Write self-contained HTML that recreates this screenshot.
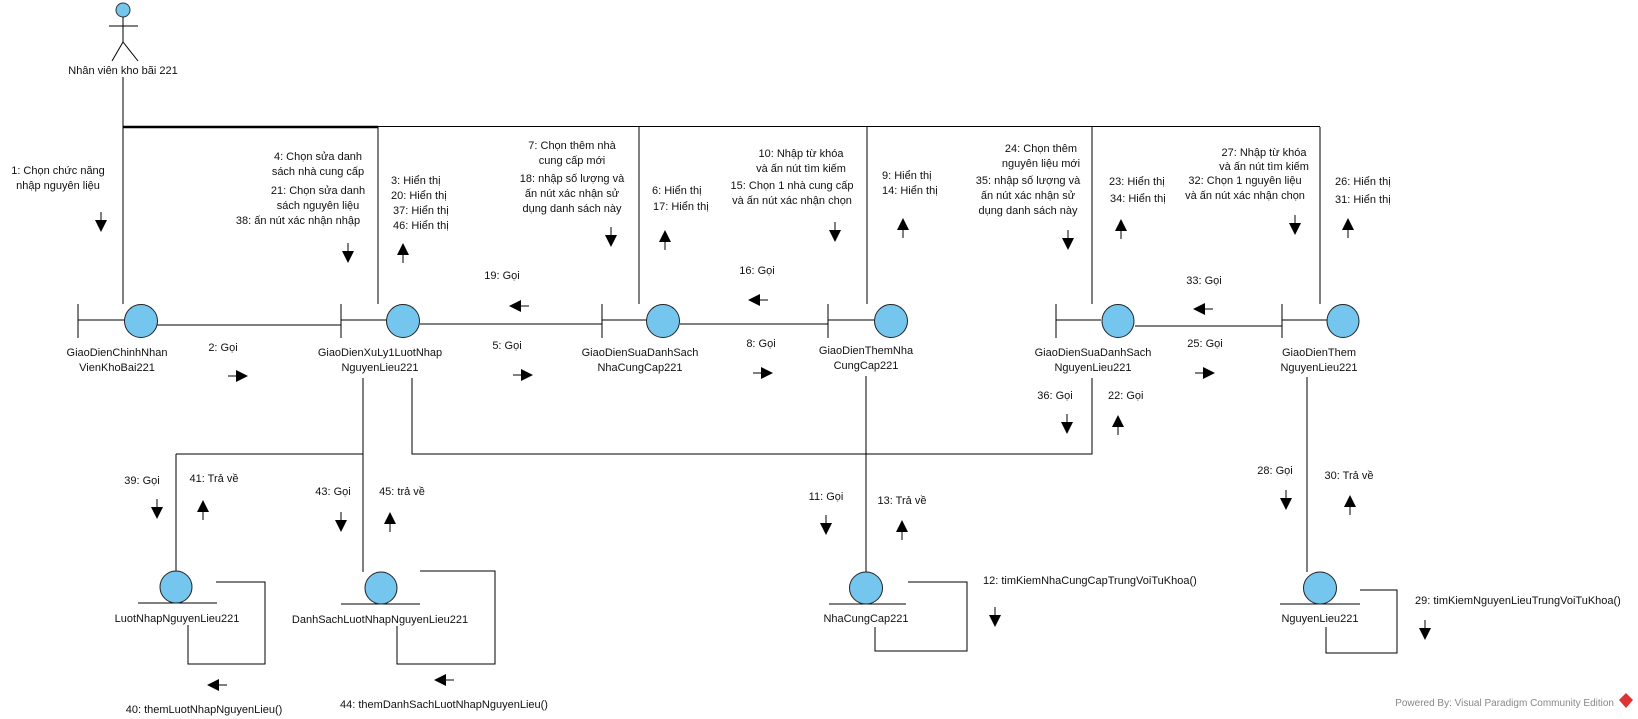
<!DOCTYPE html>
<html><head><meta charset="utf-8"><style>
html,body{margin:0;padding:0;background:#fff;}
svg{display:block;}
text{font-family:"Liberation Sans",Arial,sans-serif;font-size:11px;fill:#111;}
.m{text-anchor:middle;}
</style></head><body>
<svg width="1638" height="719" viewBox="0 0 1638 719" xmlns="http://www.w3.org/2000/svg">
<defs>
<g id="ad"><line x1="6" y1="0" x2="6" y2="8" stroke="#000" stroke-width="1"/><polygon points="0,8 12,8 6,20" fill="#000"/></g>
<g id="au"><line x1="6" y1="12" x2="6" y2="20" stroke="#000" stroke-width="1"/><polygon points="0,12 12,12 6,0" fill="#000"/></g>
<g id="ar"><line x1="0" y1="6" x2="8" y2="6" stroke="#000" stroke-width="1"/><polygon points="8,0 8,12 20,6" fill="#000"/></g>
<g id="al"><line x1="12" y1="6" x2="20" y2="6" stroke="#000" stroke-width="1"/><polygon points="12,0 12,12 0,6" fill="#000"/></g>
</defs>
<g stroke="#000" stroke-width="1" fill="none">
<!-- actor -->
<circle cx="123" cy="10" r="7" fill="#74c6ef" stroke="#333"/>
<line x1="123" y1="17" x2="123" y2="42"/>
<line x1="109" y1="26" x2="138" y2="26"/>
<line x1="123" y1="42" x2="112" y2="61"/>
<line x1="123" y1="42" x2="138" y2="61"/>
<line x1="123" y1="77" x2="123" y2="127"/>
<!-- top line -->
<line x1="123" y1="127" x2="378" y2="127" stroke-width="2.5"/>
<line x1="378" y1="126.5" x2="1320" y2="126.5"/>
<line x1="123" y1="127" x2="123" y2="304"/>
<line x1="378" y1="127" x2="378" y2="304"/>
<line x1="639" y1="127" x2="639" y2="304"/>
<line x1="867" y1="127" x2="867" y2="304"/>
<line x1="1092" y1="127" x2="1092" y2="304"/>
<line x1="1320" y1="127" x2="1320" y2="304"/>
<!-- boundaries -->
<line x1="78" y1="304" x2="78" y2="338"/><line x1="78" y1="320" x2="124" y2="320"/>
<line x1="341" y1="304" x2="341" y2="338"/><line x1="341" y1="320" x2="387" y2="320"/>
<line x1="602" y1="304" x2="602" y2="338"/><line x1="602" y1="320" x2="647" y2="320"/>
<line x1="828" y1="304" x2="828" y2="338"/><line x1="828" y1="320" x2="874" y2="320"/>
<line x1="1056" y1="304" x2="1056" y2="338"/><line x1="1056" y1="320" x2="1101" y2="320"/>
<line x1="1282" y1="304" x2="1282" y2="338"/><line x1="1282" y1="320" x2="1327" y2="320"/>
<!-- connections -->
<line x1="157" y1="325" x2="341" y2="325"/>
<line x1="420" y1="324" x2="602" y2="324"/>
<line x1="680" y1="324" x2="828" y2="324"/>
<line x1="1135" y1="326" x2="1282" y2="326"/>
<!-- lower connections -->
<line x1="363" y1="378" x2="363" y2="572"/>
<line x1="176" y1="454" x2="363" y2="454"/>
<line x1="176" y1="454" x2="176" y2="572"/>
<polyline points="412,378 412,454 1092,454 1092,378"/>
<line x1="866" y1="376" x2="866" y2="572"/>
<line x1="1307" y1="377" x2="1307" y2="572"/>
<!-- entities base lines -->
<line x1="138" y1="603" x2="217" y2="603"/>
<line x1="341" y1="604" x2="420" y2="604"/>
<line x1="829" y1="604" x2="906" y2="604"/>
<line x1="1280" y1="604" x2="1360" y2="604"/>
<!-- self loops -->
<polyline points="216,582 265,582 265,664 188,664 188,625"/>
<polyline points="420,571 495,571 495,664 397,664 397,626"/>
<polyline points="908,582 967,582 967,651 875,651 875,627"/>
<polyline points="1360,590 1397,590 1397,653 1326,653 1326,627"/>
</g>
<g fill="#74c6ef" stroke="#222" stroke-width="1">
<circle cx="141" cy="321" r="16.5"/>
<circle cx="403" cy="321" r="16.5"/>
<circle cx="663" cy="321" r="16.5"/>
<circle cx="891" cy="321" r="16.5"/>
<ellipse cx="1118" cy="321" rx="16" ry="16.5"/>
<ellipse cx="1343" cy="321" rx="16" ry="16.5"/>
<circle cx="176" cy="587" r="16"/>
<circle cx="381" cy="588" r="16"/>
<ellipse cx="866" cy="588" rx="16.5" ry="16"/>
<ellipse cx="1320" cy="588" rx="16.5" ry="16"/>
</g>
<!-- arrows -->
<use href="#ad" x="95" y="212"/>
<use href="#ad" x="342" y="243"/>
<use href="#au" x="397" y="243"/>
<use href="#ar" x="228" y="370"/>
<use href="#ar" x="513" y="369"/>
<use href="#al" x="509" y="300"/>
<use href="#ad" x="605" y="227"/>
<use href="#au" x="659" y="230"/>
<use href="#ad" x="829" y="222"/>
<use href="#al" x="748" y="294"/>
<use href="#ar" x="753" y="367"/>
<use href="#au" x="897" y="218"/>
<use href="#ad" x="1062" y="230"/>
<use href="#au" x="1115" y="219"/>
<use href="#ad" x="1289" y="215"/>
<use href="#au" x="1342" y="218"/>
<use href="#al" x="1193" y="303"/>
<use href="#ar" x="1195" y="367"/>
<use href="#ad" x="1061" y="414"/>
<use href="#au" x="1112" y="415"/>
<use href="#ad" x="151" y="499"/>
<use href="#au" x="197" y="500"/>
<use href="#ad" x="335" y="512"/>
<use href="#au" x="384" y="512"/>
<use href="#al" x="207" y="679"/>
<use href="#al" x="434" y="674"/>
<use href="#ad" x="820" y="515"/>
<use href="#au" x="896" y="520"/>
<use href="#ad" x="989" y="607"/>
<use href="#ad" x="1280" y="490"/>
<use href="#au" x="1344" y="495"/>
<use href="#ad" x="1419" y="620"/>
<!-- texts -->
<text class="m" x="123" y="74">Nhân viên kho bãi 221</text>
<text class="m" x="58" y="174">1: Chọn chức năng</text>
<text class="m" x="58" y="189">nhập nguyên liệu</text>
<text class="m" x="318" y="160">4: Chọn sửa danh</text>
<text class="m" x="318" y="175">sách nhà cung cấp</text>
<text class="m" x="318" y="194">21: Chọn sửa danh</text>
<text class="m" x="318" y="209">sách nguyên liệu</text>
<text class="m" x="298" y="224">38: ấn nút xác nhận nhập</text>
<text x="391" y="184">3: Hiển thị</text>
<text x="391" y="199">20: Hiển thị</text>
<text x="393" y="214">37: Hiển thị</text>
<text x="393" y="229">46: Hiển thị</text>
<text class="m" x="572" y="149">7: Chọn thêm nhà</text>
<text class="m" x="572" y="164">cung cấp mới</text>
<text class="m" x="572" y="182">18: nhập số lượng và</text>
<text class="m" x="572" y="197">ấn nút xác nhận sử</text>
<text class="m" x="572" y="212">dụng danh sách này</text>
<text x="652" y="194">6: Hiển thị</text>
<text x="653" y="210">17: Hiển thị</text>
<text class="m" x="801" y="157">10: Nhập từ khóa</text>
<text class="m" x="801" y="172">và ấn nút tìm kiếm</text>
<text class="m" x="792" y="189">15: Chọn 1 nhà cung cấp</text>
<text class="m" x="792" y="204">và ấn nút xác nhận chọn</text>
<text x="882" y="179">9: Hiển thị</text>
<text x="882" y="194">14: Hiển thị</text>
<text class="m" x="1041" y="152">24: Chọn thêm</text>
<text class="m" x="1041" y="167">nguyên liệu mới</text>
<text class="m" x="1028" y="184">35: nhập số lượng và</text>
<text class="m" x="1028" y="199">ấn nút xác nhận sử</text>
<text class="m" x="1028" y="214">dụng danh sách này</text>
<text x="1109" y="185">23: Hiển thị</text>
<text x="1110" y="202">34: Hiển thị</text>
<text class="m" x="1264" y="156">27: Nhập từ khóa</text>
<text class="m" x="1264" y="170">và ấn nút tìm kiếm</text>
<text class="m" x="1245" y="184">32: Chọn 1 nguyên liệu</text>
<text class="m" x="1245" y="199">và ấn nút xác nhận chọn</text>
<text x="1335" y="185">26: Hiển thị</text>
<text x="1335" y="203">31: Hiển thị</text>
<text class="m" x="502" y="279">19: Gọi</text>
<text class="m" x="757" y="274">16: Gọi</text>
<text class="m" x="1204" y="284">33: Gọi</text>
<text class="m" x="223" y="351">2: Gọi</text>
<text class="m" x="507" y="349">5: Gọi</text>
<text class="m" x="761" y="347">8: Gọi</text>
<text class="m" x="1205" y="347">25: Gọi</text>
<text class="m" x="117" y="356">GiaoDienChinhNhan</text>
<text class="m" x="117" y="371">VienKhoBai221</text>
<text class="m" x="380" y="356">GiaoDienXuLy1LuotNhap</text>
<text class="m" x="380" y="371">NguyenLieu221</text>
<text class="m" x="640" y="356">GiaoDienSuaDanhSach</text>
<text class="m" x="640" y="371">NhaCungCap221</text>
<text class="m" x="866" y="354">GiaoDienThemNha</text>
<text class="m" x="866" y="369">CungCap221</text>
<text class="m" x="1093" y="356">GiaoDienSuaDanhSach</text>
<text class="m" x="1093" y="371">NguyenLieu221</text>
<text class="m" x="1319" y="356">GiaoDienThem</text>
<text class="m" x="1319" y="371">NguyenLieu221</text>
<text class="m" x="1055" y="399">36: Gọi</text>
<text x="1108" y="399">22: Gọi</text>
<text class="m" x="142" y="484">39: Gọi</text>
<text class="m" x="214" y="482">41: Trả về</text>
<text class="m" x="333" y="495">43: Gọi</text>
<text class="m" x="402" y="495">45: trả về</text>
<text class="m" x="826" y="500">11: Gọi</text>
<text class="m" x="902" y="504">13: Trả về</text>
<text class="m" x="1275" y="474">28: Gọi</text>
<text class="m" x="1349" y="479">30: Trả về</text>
<text class="m" x="177" y="622">LuotNhapNguyenLieu221</text>
<text class="m" x="380" y="623">DanhSachLuotNhapNguyenLieu221</text>
<text class="m" x="866" y="622">NhaCungCap221</text>
<text class="m" x="1320" y="622">NguyenLieu221</text>
<text x="983" y="584">12: timKiemNhaCungCapTrungVoiTuKhoa()</text>
<text x="1415" y="604">29: timKiemNguyenLieuTrungVoiTuKhoa()</text>
<text class="m" x="204" y="713">40: themLuotNhapNguyenLieu()</text>
<text class="m" x="444" y="708">44: themDanhSachLuotNhapNguyenLieu()</text>
<text x="1614" y="706" style="text-anchor:end;font-size:10px;fill:#888">Powered By: Visual Paradigm Community Edition</text>
<polygon points="1626,693 1633,700 1626,708 1619,700" fill="#d33"/>
</svg>
</body></html>
